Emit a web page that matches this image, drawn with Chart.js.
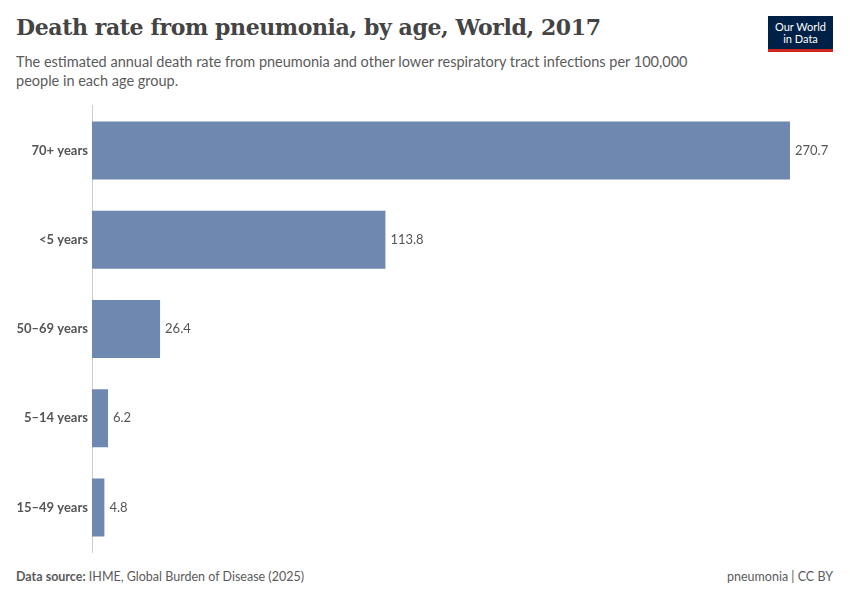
<!DOCTYPE html>
<html>
<head>
<meta charset="utf-8">
<script src="https://cdn.jsdelivr.net/npm/chart.js@4"></script>
<style>
  body { margin: 0; width: 850px; height: 600px; background: #fff; font-family: Lato, sans-serif; position: relative; overflow: hidden; }
  h1 { position: absolute; left: 16px; top: 14px; margin: 0; font-family: "DejaVu Serif", serif; font-weight: 600; font-size: 22px; color: #444; letter-spacing: -0.4px; }
  .sub { position: absolute; left: 16px; top: 52px; width: 700px; font-size: 14.5px; line-height: 19px; color: #5b5b5b; }
  .logo { position: absolute; right: 17px; top: 16px; width: 65px; height: 36px; background: #002147; color: #fff; font-size: 11px; line-height: 12px; text-align: center; padding-top: 5px; box-sizing: border-box; border-bottom: 3px solid #ce261e; }
  .foot { position: absolute; top: 569px; font-size: 12.5px; color: #5b5b5b; }
  #wrap { position: absolute; left: 0; top: 94px; width: 850px; height: 470px; }
</style>
</head>
<body>
<h1>Death rate from pneumonia, by age, World, 2017</h1>
<div class="sub">The estimated annual death rate from pneumonia and other lower respiratory tract infections per 100,000 people in each age group.</div>
<div class="logo">Our World<br>in Data</div>
<div class="foot" style="left:16px"><b>Data source:</b> IHME, Global Burden of Disease (2025)</div>
<div class="foot" style="right:17px">pneumonia | CC BY</div>
<div id="wrap"><canvas id="c"></canvas></div>
<script>
const ageGroups = ["70+ years", "<5 years", "50–69 years", "5–14 years", "15–49 years"];
const deathRates = [270.7, 113.8, 26.4, 6.2, 4.8];

// value labels at the end of each bar
const valueLabels = {
  id: "valueLabels",
  afterDatasetsDraw(chart) {
    const ctx = chart.ctx;
    ctx.save();
    ctx.font = "13px Lato";
    ctx.fillStyle = "#555";
    ctx.textBaseline = "middle";
    chart.getDatasetMeta(0).data.forEach((bar, i) => {
      ctx.fillText(deathRates[i].toFixed(1), bar.x + 5, bar.y);
    });
    ctx.restore();
  }
};

new Chart(document.getElementById("c"), {
  type: "bar",
  data: {
    labels: ageGroups,
    datasets: [{
      data: deathRates,
      backgroundColor: "#6f88b0",
      barPercentage: 1,
      categoryPercentage: 0.65
    }]
  },
  options: {
    indexAxis: "y",
    responsive: true,
    maintainAspectRatio: false,
    animation: false,
    layout: { padding: { right: 18, top: 0, bottom: 0 } },
    plugins: { legend: { display: false }, tooltip: { enabled: false } },
    scales: {
      x: { display: false, min: 0, max: 287 },
      y: {
        afterFit(axis) { axis.width = 92; },
        grid: { display: false, drawTicks: false },
        border: { color: "#ccc" },
        ticks: { color: "#555", font: { family: "Lato", size: 13, weight: "bold" }, padding: 4 }
      }
    }
  },
  plugins: [valueLabels]
});
</script>
</body>
</html>
